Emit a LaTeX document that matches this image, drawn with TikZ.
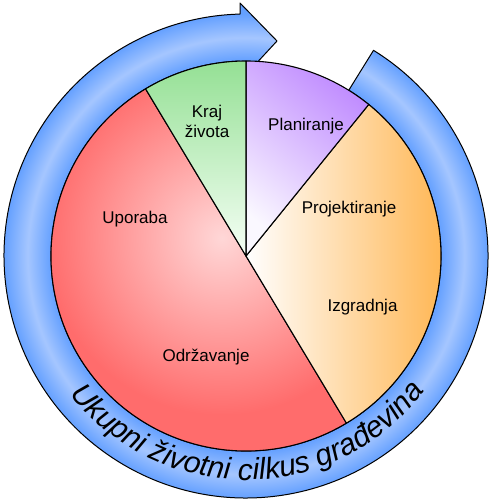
\documentclass[tikz,border=0pt]{standalone}
\usepackage{fontspec}
\setmainfont{Liberation Sans}
\usetikzlibrary{decorations.text}
\definecolor{ringblue}{RGB}{100,160,255}
\definecolor{ringlight}{RGB}{165,198,255}
\definecolor{redM}{RGB}{255,108,108}
\definecolor{redL}{RGB}{255,215,215}
\definecolor{greenT}{RGB}{148,224,148}
\definecolor{greenB}{RGB}{246,255,246}
\definecolor{purpleT}{RGB}{192,140,255}
\definecolor{purpleB}{RGB}{250,248,255}
\definecolor{orangeR}{RGB}{255,183,85}
\pgfdeclareradialshading{ringsh}{\pgfpoint{0bp}{0bp}}{color(0bp)=(ringblue); color(18.75bp)=(ringblue); color(21bp)=(ringlight); color(23.3bp)=(ringblue); color(50bp)=(ringblue)}
\pgfdeclareradialshading{redsh}{\pgfpoint{0bp}{0bp}}{color(0bp)=(redL); color(17bp)=(redM); color(50bp)=(redM)}
\begin{document}
\begin{tikzpicture}[x=1pt,y=1pt,
  outl/.style={draw=black,line width=1.1pt,line join=round},
  lbl/.style={font=\fontsize{17}{20}\selectfont,text=black,inner sep=0pt,anchor=base}]
\useasboundingbox (0,0) rectangle (493,500);
\begin{scope}[shift={(246,244)}]
  % ring arrow
  \def\ringpath{(58.2:242) arc[start angle=58.2,end angle=-268.58,radius=242] -- (-6,253) -- (31,215) -- (-6,175) -- (-268.24:195) arc[start angle=-268.24,end angle=58.2,radius=195] -- cycle}
  \begin{scope}
    \clip \ringpath;
    \shade[shading=ringsh] (0,0) circle (260);
  \end{scope}
  \draw[outl,line width=1pt] \ringpath;
  % red half
  \def\redpath{(0,0) -- (121:195) arc[start angle=121,end angle=301,radius=195] -- cycle}
  \begin{scope}
    \clip \redpath;
    \shade[shading=redsh] (-24,18) circle (260);
  \end{scope}
  \draw[outl] \redpath;
  % orange
  \def\orpath{(0,0) -- (-59:195) arc[start angle=-59,end angle=51,radius=195] -- cycle}
  \shade[left color=white,right color=orangeR] \orpath;
  \draw[outl] \orpath;
  % purple
  \def\pupath{(0,0) -- (51:195) arc[start angle=51,end angle=90,radius=195] -- cycle}
  \shade[top color=purpleT,bottom color=purpleB,shading angle=-40] \pupath;
  \draw[outl] \pupath;
  % green
  \def\grpath{(0,0) -- (90:195) arc[start angle=90,end angle=121,radius=195] -- cycle}
  \shade[top color=greenT,bottom color=greenB] \grpath;
  \draw[outl] \grpath;
  % curved title
  \path[decorate,decoration={text along path,text align=center,
    text={|\fontsize{30}{31}\selectfont\itshape|Ukupni životni cilkus građevina}}]
    (198:224) arc[start angle=198,end angle=343,radius=224];
\end{scope}
% labels
\node[lbl] (kraj) at (207,382) {Kraj};
\node[lbl] (zivota) at (207,362) {života};
\node[lbl] (plan) at (306,369) {Planiranje};
\node[lbl] (proj) at (349,286) {Projektiranje};
\node[lbl] (upor) at (135,276) {Uporaba};
\node[lbl] (izgr) at (362.5,188) {Izgradnja};
\node[lbl] (odrz) at (206,138) {Održavanje};
\end{tikzpicture}
\end{document}
